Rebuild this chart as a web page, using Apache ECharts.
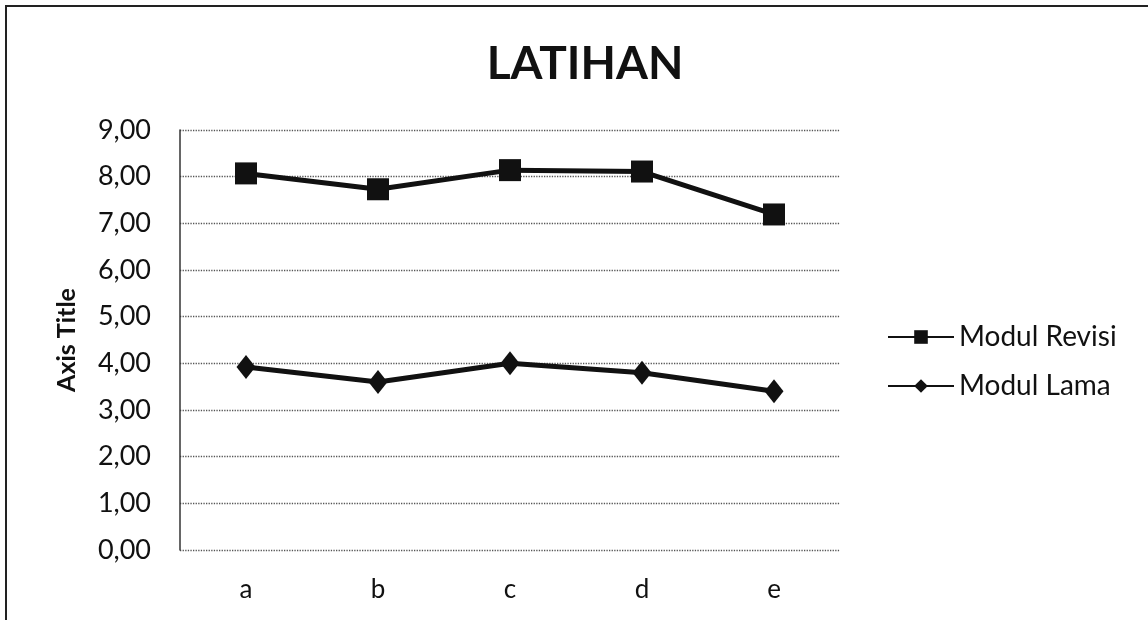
<!DOCTYPE html>
<html>
<head>
<meta charset="utf-8">
<script src="https://cdn.jsdelivr.net/npm/echarts@6/dist/echarts.min.js"></script>
<style>
  html, body { margin: 0; padding: 0; background: #fff; }
  #main { width: 1148px; height: 620px; }
</style>
</head>
<body>
<div id="main"></div>
<script>
// categories and values
const categories = ['a', 'b', 'c', 'd', 'e']
const modulRevisi = [8.07, 7.73, 8.14, 8.11, 7.19]
const modulLama = [3.92, 3.60, 4.00, 3.80, 3.40]

const chart = echarts.init(document.getElementById('main'))
const font = 'Lato, "Open Sans", sans-serif'

const option = {
  animation: false,
  backgroundColor: '#fff',
  textStyle: { fontFamily: font },
  title: {
    text: 'LATIHAN',
    left: 580,
    top: 36,
    textAlign: 'center',
    textStyle: { fontSize: 46, fontWeight: 'bold', color: '#111', fontFamily: font }
  },
  // outer frame of the pasted chart
  graphic: [{
    type: 'rect',
    shape: { x: 6, y: 6, width: 1160, height: 640 },
    style: { fill: 'none', stroke: '#222', lineWidth: 2 },
    silent: true
  }],
  grid: { left: 180, right: 308, top: 130, bottom: 70 },
  legend: {
    orient: 'vertical',
    left: 882,
    top: 318,
    itemGap: 21,
    itemWidth: 66,
    itemHeight: 17,
    textStyle: { fontSize: 28, color: '#111', fontFamily: font },
    data: ['Modul Revisi', 'Modul Lama']
  },
  xAxis: {
    type: 'category',
    data: categories,
    boundaryGap: true,
    axisLine: { show: false },
    axisTick: { show: false },
    axisLabel: { fontSize: 26, color: '#111', margin: 27 }
  },
  yAxis: {
    type: 'value',
    min: 0,
    max: 9,
    interval: 1,
    name: 'Axis Title',
    nameLocation: 'middle',
    nameGap: 101,
    nameMoveOverlap: false,
    nameTextStyle: { fontSize: 25, fontWeight: 'bold', color: '#111' },
    axisLine: { show: true, lineStyle: { color: '#333', width: 1.5 } },
    axisTick: { show: false },
    axisLabel: {
      fontSize: 27,
      color: '#111',
      margin: 29,
      formatter: v => v.toFixed(2).replace('.', ',')
    },
    splitLine: { lineStyle: { color: '#555', type: 'dotted', width: 1.3 } }
  },
  series: [
    {
      name: 'Modul Revisi',
      type: 'line',
      data: modulRevisi,
      symbol: 'rect',
      symbolSize: 22,
      lineStyle: { color: '#111', width: 5 },
      itemStyle: { color: '#111' }
    },
    {
      name: 'Modul Lama',
      type: 'line',
      data: modulLama,
      symbol: 'diamond',
      symbolSize: [19, 24],
      lineStyle: { color: '#111', width: 5 },
      itemStyle: { color: '#111' }
    }
  ]
}

chart.setOption(option)
</script>
</body>
</html>
